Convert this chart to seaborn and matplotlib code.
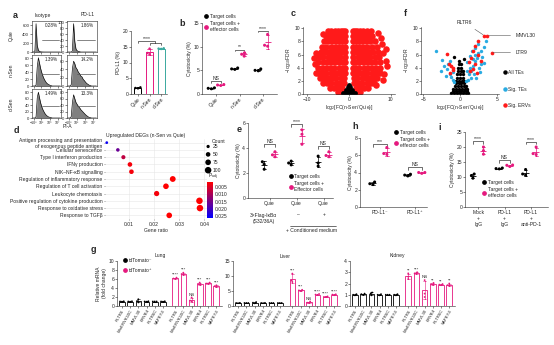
import matplotlib
matplotlib.use("Agg")
import matplotlib.pyplot as plt
import seaborn as sns
import numpy as np
import pandas as pd
from matplotlib.lines import Line2D
from matplotlib.colors import LinearSegmentedColormap, Normalize
from matplotlib.cm import ScalarMappable
import warnings
warnings.filterwarnings("ignore")

# ---------------- DATA ----------------
# a: flow histograms (bin heights at bin centres over a 0-10 display scale)
hist_x = [0.2, 0.6, 1.0, 1.4, 1.8, 2.2, 2.6, 3.0, 3.4, 3.8, 4.2, 4.6, 5.0, 5.4, 5.8, 6.2,
          6.6, 7.0, 7.4, 7.8, 8.2, 8.6, 9.0, 9.4, 9.8]
hist_quie_iso = [0, 0, 30, 640, 150, 40, 12, 5, 2, 1, 0, 0, 0, 0, 0, 0, 0, 0, 0, 0, 0, 0, 0, 0, 0]
hist_quie_pdl1 = [0, 0, 0, 0, 3, 96, 35, 10, 4, 2, 1, 0, 0, 0, 0, 0, 0, 0, 0, 0, 0, 0, 0, 0, 0]
hist_nsen_iso = [0, 0, 0, 3, 55, 82, 66, 50, 38, 28, 20, 14, 9, 6, 4, 2, 1, 0, 0, 0, 0, 0, 0, 0, 0]
hist_nsen_pdl1 = [0, 0, 0, 3, 42, 60, 54, 44, 40, 33, 30, 24, 22, 16, 13, 9, 6, 4, 2, 1, 0, 0, 0, 0, 0]
hist_dsen_iso = [0, 0, 0, 4, 62, 80, 62, 46, 34, 25, 18, 12, 8, 5, 3, 2, 1, 0, 0, 0, 0, 0, 0, 0, 0]
hist_dsen_pdl1 = [0, 0, 0, 4, 48, 72, 60, 48, 42, 36, 32, 26, 22, 18, 14, 10, 7, 4, 2, 1, 0, 0, 0, 0, 0]
hist_pct = ['0.28%', '1.86%', '1.39%', '14.2%', '1.49%', '13.3%']
hist_xtick_labels = ['−10³', '10³', '10⁵', '10⁷']

# a: PD-L1 bar chart
a_groups = ['Quie', 'n-Sen', 'd-Sen']
a_values = [[2.1, 1.8, 1.9], [14.4, 13.0, 12.6], [14.5, 14.3, 14.4]]

# b: cytotoxicity
b_groups = ['Quie', 'n-Sen', 'd-Sen']
b_target = [[1.1, 1.3, 1.2], [5.2, 5.5, 5.3], [5.0, 5.3, 4.9]]
b_effector = [[1.8, 2.0, 1.9], [8.0, 8.7, 8.4], [12.6, 10.3, 10.1]]
b_sig = ['NS', '**', '****']

# c: volcano (all genes), red = significant, rows of y with x positions
c_red_y = [0.3, 0.9, 1.6, 2.4, 3.2, 4.0, 4.8, 5.6, 6.4, 7.2, 8.0, 8.8, 9.6]
c_red_x = [
    [-2.6, -1.7, 1.7, 2.6],
    [-4.6, -3.6, -2.6, -1.7, 1.7, 2.6, 3.6, 4.5],
    [-6.2, -5.2, -4.2, -3.2, -2.2, -1.3, 1.3, 2.2, 3.2, 4.2, 5.2, 6.0],
    [-7.0, -6.0, -5.0, -4.0, -3.0, -2.0, -1.1, 1.1, 2.0, 3.0, 4.0, 5.0, 5.9, 6.8],
    [-7.4, -6.4, -5.4, -4.4, -3.4, -2.4, -1.5, -1.0, 1.0, 1.5, 2.4, 3.4, 4.4, 5.4, 6.4, 7.3],
    [-7.5, -6.5, -5.5, -4.5, -3.5, -2.5, -1.6, -1.0, 1.0, 1.6, 2.5, 3.5, 4.5, 5.5, 6.5, 7.5],
    [-7.3, -6.3, -5.3, -4.3, -3.3, -2.3, -1.5, -1.0, 1.0, 1.5, 2.3, 3.3, 4.3, 5.3, 6.3, 7.4],
    [-7.1, -6.1, -5.1, -4.1, -3.1, -2.1, -1.0, 1.0, 2.1, 3.1, 4.1, 5.1, 6.1, 7.2],
    [-6.8, -5.8, -4.8, -3.8, -2.8, -1.9, -1.0, 1.0, 1.9, 2.8, 3.8, 4.8, 5.8, 7.0],
    [-6.4, -5.4, -4.4, -3.4, -2.5, -1.7, -1.0, 1.0, 1.7, 2.5, 3.4, 4.4, 5.4, 6.6],
    [-6.0, -5.0, -4.0, -3.1, -2.3, -1.6, -1.0, 1.0, 1.6, 2.3, 3.1, 4.0, 5.0, 6.2],
    [-5.5, -4.6, -3.7, -2.9, -2.1, -1.5, -1.0, 1.0, 1.5, 2.1, 2.9, 3.7, 4.6, 5.6],
    [-5.0, -4.2, -3.4, -2.6, -1.9, -1.4, -1.0, 1.0, 1.4, 1.9, 2.6, 3.4, 4.2, 5.2],
]
c_red_out_x = [8.2, 8.8, 7.9, 9.0, -8.2, -7.8, 8.4, 7.6, -8.0, 8.9, -6.3, 6.9, -8.4, 8.1, 6.4]
c_red_out_y = [6.2, 5.0, 7.6, 4.2, 4.5, 6.3, 3.0, 8.6, 3.2, 6.8, 9.2, 9.3, 5.5, 2.1, 1.3]
c_black_x = [0.0, -0.5, 0.5, -1.0, 1.0, -0.3, 0.3, 0.0, -0.2, 0.2, 0.0, -1.4, 1.4, -0.7, 0.7]
c_black_y = [0.1, 0.2, 0.2, 0.15, 0.15, 0.5, 0.5, 0.8, 1.1, 1.1, 1.4, 0.1, 0.1, 0.6, 0.6]

# f: volcano (TEs)
f_black_y = [0.1, 0.4, 0.8, 1.2, 1.6, 2.0, 2.5, 3.0, 3.5, 4.0, 4.5, 5.0]
f_black_x = [
    [-1.2, -0.8, -0.4, 0.0, 0.4, 0.8, 1.1],
    [-1.0, -0.6, -0.2, 0.2, 0.6, 1.0],
    [-0.9, -0.5, -0.1, 0.3, 0.7, 1.0],
    [-0.7, -0.3, 0.1, 0.5, 0.8],
    [-0.6, -0.2, 0.2, 0.6],
    [-0.5, -0.1, 0.3, 0.6],
    [-0.4, 0.0, 0.4],
    [-0.35, 0.05, 0.4],
    [-0.3, 0.1, 0.35],
    [-0.25, 0.15],
    [-0.2, 0.1],
    [-0.1],
]
f_black_extra_x = [-0.8, 0.6]
f_black_extra_y = [5.7, 5.3]
f_blue_x = [-3.2, -2.5, -2.2, -1.8, -1.4, -1.2, -1.6, -1.0, -0.9, -2.6, -1.9, -1.3, -0.8,
            1.2, 1.5, 1.8, 2.0, 2.3, 2.5, 2.0, 1.6, 1.3, 1.0, 2.8, 3.0, 2.6, 1.9, 2.2, 1.1,
            3.2, 2.5, 2.7, 1.4, 0.9, 1.7, 2.9, 3.3, 2.1, 1.5, 0.8, 3.5]
f_blue_y = [6.6, 5.2, 4.3, 3.8, 3.1, 2.6, 4.5, 2.2, 3.3, 3.5, 2.8, 5.0, 1.8,
            3.0, 3.5, 4.2, 5.0, 5.5, 6.2, 7.0, 6.5, 5.8, 4.8, 4.5, 5.6, 4.0, 3.0, 2.5, 2.2,
            7.1, 7.6, 3.4, 4.0, 3.5, 5.3, 6.6, 4.7, 6.0, 2.5, 2.0, 8.0]
f_red_x = [3.3, 3.7, 4.3, 1.8, 2.5, 1.5, 1.2, 2.0, 1.8, 2.3, 2.8, 1.4, 2.5, 2.1,
           -1.5, -1.2, -1.0, -1.7, -0.9, -1.3]
f_red_y = [8.9, 8.9, 6.3, 6.6, 6.0, 5.5, 4.8, 4.6, 3.8, 3.2, 5.1, 3.5, 8.0, 7.3,
           4.6, 4.3, 4.0, 6.1, 3.6, 3.2]

# d: GO enrichment
d_terms = ['Antigen processing and presentation\nof exogenous peptide antigen',
           'Cellular senescence', 'Type I interferon production', 'IFNγ production',
           'NIK–NF-κB signalling', 'Regulation of inflammatory response',
           'Regulation of T cell activation', 'Leukocyte chemotaxis',
           'Positive regulation of cytokine production', 'Response to oxidative stress',
           'Response to TGFβ']
d_ratio = [0.0012, 0.0056, 0.0078, 0.0104, 0.0110, 0.0274, 0.0247, 0.0210, 0.0380, 0.0382, 0.0260]
d_count = [18, 30, 40, 50, 50, 80, 75, 65, 100, 100, 75]
d_padj = [0.025, 0.016, 0.008, 0.003, 0.003, 0.002, 0.002, 0.003, 0.001, 0.001, 0.002]
d_count_legend = [25, 50, 75, 100]
d_padj_ticks = [0.005, 0.010, 0.015, 0.020, 0.025]

# e
e_target = [[2.9, 2.7, 2.3], [2.95, 2.8, 2.65], [3.35, 2.8, 2.55]]
e_effector = [[3.7, 3.45, 3.3], [5.45, 5.1, 4.3], [3.7, 3.4, 3.3]]
e_sig = ['NS', '****', 'NS']

# h
h_groups = ['PD-L1⁻', 'PD-L1⁺']
h_target = [[2.9, 2.7, 2.6], [3.8, 3.6, 3.7]]
h_effector = [[6.9, 6.2, 6.1], [4.0, 3.9, 4.0]]
h_sig = ['***', 'NS']

# i
i_groups = ['Mock\n+\nIgG', 'PD-L1\n+\nIgG', 'PD-L1\n+\nanti-PD-1']
i_target = [[11.0, 10.5, 9.6], [12.7, 12.8, 13.0], [12.5, 11.0, 10.6]]
i_effector = [[20.0, 18.8, 17.6], [13.5, 14.0, 13.9], [20.0, 17.5, 17.8]]
i_sig = ['****', 'NS', '****']

# g
g_genes = ['RLTR6', 'MmERVK10C', 'MMVL30', 'ERVB4', 'RLTR6C', 'SAPEY4']
lung_neg = [[1.0, 1.05, 0.95], [1.0, 0.95, 1.05], [1.5, 0.8, 1.1], [1.0, 1.05, 0.95], [1.0, 1.0, 1.0], [1.0, 0.95, 1.05]]
lung_pos = [[6.3, 6.0, 6.1], [7.4, 7.0, 7.1], [1.9, 1.0, 1.2], [5.2, 4.9, 4.8], [5.2, 5.0, 5.0], [4.6, 4.4, 4.2]]
liver_neg = [[1.0, 1.05, 0.95], [1.0, 1.0, 1.0], [1.3, 0.9, 1.1], [1.0, 0.95, 1.05], [1.0, 1.0, 1.0], [1.0, 1.0, 1.0]]
liver_pos = [[10.8, 8.5, 8.0], [5.4, 5.2, 5.0], [1.5, 1.0, 1.1], [4.0, 3.8, 3.7], [3.2, 3.0, 3.0], [3.9, 3.8, 3.6]]
kidney_neg = [[1.0, 1.05, 0.95], [1.1, 1.0, 1.05], [1.2, 0.95, 1.1], [1.0, 1.05, 0.95], [1.0, 1.0, 1.0], [1.0, 1.05, 0.95]]
kidney_pos = [[2.9, 2.6, 2.4], [3.0, 2.9, 2.85], [2.3, 1.1, 0.8], [2.05, 1.95, 1.9], [1.95, 1.9, 1.85], [2.0, 1.85, 1.8]]
lung_sig = ['****', '***', 'NS', '***', '***', '***']
liver_sig = ['***', '***', 'NS', '****', '****', '****']
kidney_sig = ['**', '***', 'NS', '**', '**', '**']

# ---------------- STYLE ----------------
sns.set_theme(style="ticks")
plt.rcParams['font.family'] = ['Liberation Sans', 'DejaVu Sans']
FS = 3.6
plt.rcParams.update({
    'font.size': FS, 'axes.linewidth': 0.4,
    'xtick.major.width': 0.4, 'ytick.major.width': 0.4,
    'xtick.major.size': 1.2, 'ytick.major.size': 1.2,
    'xtick.labelsize': FS, 'ytick.labelsize': FS, 'axes.labelsize': FS,
    'xtick.major.pad': 0.8, 'ytick.major.pad': 0.8, 'axes.labelpad': 1.0,
    'legend.fontsize': FS, 'mathtext.default': 'regular',
})
PINK = '#e5197e'
TEAL = '#3aa99f'
RED = '#ff1a1a'
BLUE = '#29abe2'
GREY = '#7f7f7f'

W, H = 554, 345
fig = plt.figure(figsize=(W / 100, H / 100), dpi=100)


def add_ax(x0, y0, x1, y1):
    return fig.add_axes([x0 / W, 1 - y1 / H, (x1 - x0) / W, (y1 - y0) / H])


def ftext(x, y, s, **kw):
    kw.setdefault('ha', 'center')
    kw.setdefault('va', 'center')
    kw.setdefault('fontsize', FS)
    fig.text(x / W, 1 - y / H, s, **kw)


def letter(x, y, s):
    ftext(x, y, s, fontsize=6.5, weight='bold')


def px_legend(ax, x, y, entries, ms=2.4, spacing=0.5):
    handles = [Line2D([], [], marker='o', ls='', color=c, markersize=ms, label=l) for l, c in entries]
    ax.legend(handles=handles, loc='upper left', bbox_to_anchor=(x / W, 1 - y / H),
              bbox_transform=fig.transFigure, frameon=False, handlelength=0.6,
              handletextpad=0.5, borderpad=0, borderaxespad=0, labelspacing=spacing, fontsize=FS)


def bracket(ax, x0, x1, y, h, text, off=0.0):
    ax.plot([x0, x0, x1, x1], [y - h, y, y, y - h], color='black', lw=0.4, clip_on=False)
    ax.text((x0 + x1) / 2, y + off, text, ha='center', va='bottom', fontsize=FS, clip_on=False)


def cyto_df(groups, target, effector):
    rows = []
    for g, reps in zip(groups, target):
        for v in reps:
            rows.append((g, 'Target cells', v))
    for g, reps in zip(groups, effector):
        for v in reps:
            rows.append((g, 'Effector', v))
    return pd.DataFrame(rows, columns=['group', 'cond', 'val'])


CYTO_PAL = {'Target cells': 'black', 'Effector': PINK}


def cyto_plot(ax, groups, target, effector, dotsize=2.2):
    df = cyto_df(groups, target, effector)
    sns.swarmplot(data=df, x='group', y='val', hue='cond', order=groups,
                  hue_order=['Target cells', 'Effector'], palette=CYTO_PAL, dodge=True,
                  size=dotsize, linewidth=0, legend=False, ax=ax)
    sns.pointplot(data=df, x='group', y='val', hue='cond', order=groups,
                  hue_order=['Target cells', 'Effector'], palette=CYTO_PAL, dodge=0.4,
                  errorbar='sd', markers='_', linestyles='none', capsize=0.12,
                  err_kws={'linewidth': 0.5}, markersize=5, markeredgewidth=0.6,
                  legend=False, ax=ax)
    sns.despine(ax=ax)
    ax.set_xlabel('')
    ax.set_ylabel('Cytotoxicity (%)')


# ---------------- PANEL a ----------------
letter(15, 15, 'a')
ftext(43, 15, 'Isotype')
ftext(88, 15, 'PD-L1')
hist_sets = [hist_quie_iso, hist_quie_pdl1, hist_nsen_iso, hist_nsen_pdl1, hist_dsen_iso, hist_dsen_pdl1]
hist_ylims = [700, 105, 90, 75, 90, 90]
hist_ticks = [[0, 200, 400, 600], [0, 20, 40, 60, 80, 100], [0, 20, 40, 60, 80],
              [0, 20, 40, 60], [0, 20, 40, 60, 80], [0, 20, 40, 60, 80]]
row_y = [(21, 52), (55, 86), (89, 118)]
col_x = [(32, 61), (67, 97)]
for r in range(3):
    for cidx in range(2):
        k = r * 2 + cidx
        ax = add_ax(col_x[cidx][0], row_y[r][0], col_x[cidx][1], row_y[r][1])
        ax.fill_between(hist_x, hist_sets[k], 0, color=GREY, lw=0)
        sns.lineplot(x=hist_x, y=hist_sets[k], color='black', lw=0.45, ax=ax)
        ax.set_xlim(0, 10)
        ax.set_ylim(0, hist_ylims[k])
        ax.set_yticks(hist_ticks[k])
        ax.tick_params(axis='y', labelsize=3.1)
        ax.set_ylabel('')
        ax.set_xticks([0.6, 3.2, 6.1, 8.8])
        if r == 2:
            ax.set_xticklabels(hist_xtick_labels, fontsize=2.6)
        else:
            ax.set_xticklabels([])
        ax.axhline(hist_ylims[k] * 0.4, xmin=0.33, xmax=0.93, color='#555555', lw=0.5)
        ax.text(0.9, 0.85, hist_pct[k], transform=ax.transAxes, ha='right', va='center', fontsize=3.3)
for lab, yc in zip(['Quie', 'n-Sen', 'd-Sen'], [36, 70, 104]):
    ftext(11, yc, lab, rotation=90)
ftext(67, 126, 'PI-A')

ax = add_ax(131, 31, 167, 94)
a_rows = [(g, v) for g, reps in zip(a_groups, a_values) for v in reps]
a_df = pd.DataFrame(a_rows, columns=['group', 'val'])
a_pal = {'Quie': 'black', 'n-Sen': PINK, 'd-Sen': TEAL}
sns.barplot(data=a_df, x='group', y='val', hue='group', palette=a_pal, fill=False,
            errorbar='sd', capsize=0.4, width=0.6, linewidth=0.7, err_kws={'linewidth': 0.5},
            legend=False, ax=ax)
sns.swarmplot(data=a_df, x='group', y='val', hue='group', palette=a_pal, size=1.8,
              linewidth=0, legend=False, ax=ax)
ax.set_ylim(0, 20)
ax.set_yticks([0, 5, 10, 15, 20])
ax.set_xlim(-0.6, 2.5)
ax.set_ylabel('PD-L1 (%)')
ax.set_xlabel('')
ax.set_xticks(range(3))
ax.set_xticklabels(a_groups, rotation=45, ha='right', rotation_mode='anchor')
sns.despine(ax=ax)
ax.plot([0, 0, 1.5, 1.5], [16.2, 16.8, 16.8, 16.2], color='black', lw=0.4)
ax.plot([1, 1, 2, 2], [15.6, 16.1, 16.1, 15.6], color='black', lw=0.4)
ax.text(0.75, 16.9, '****', ha='center', va='bottom', fontsize=FS)

# ---------------- PANEL b ----------------
letter(182, 23, 'b')
ax = add_ax(202, 23, 277, 94)
cyto_plot(ax, b_groups, b_target, b_effector)
ax.set_ylim(0, 15)
ax.set_yticks([0, 5, 10, 15])
ax.set_xlim(-0.6, 2.6)
ax.set_xticks(range(3))
ax.set_xticklabels(b_groups, rotation=45, ha='right', rotation_mode='anchor')
for gi, (s, yb) in enumerate(zip(b_sig, [2.7, 9.4, 13.4])):
    bracket(ax, gi - 0.2, gi + 0.2, yb, 0.4, s)
px_legend(ax, 204, 14, [('Target cells', 'black'), ('Target cells +\neffector cells', PINK)], spacing=0.4)

# ---------------- PANEL c ----------------
letter(293, 14, 'c')
ax = add_ax(303, 27, 395, 94)
cxr = [x for row in c_red_x for x in row] + c_red_out_x
cyr = [y for y, row in zip(c_red_y, c_red_x) for _ in row] + c_red_out_y
sns.scatterplot(x=cxr, y=cyr, color=RED, s=22, linewidth=0, ax=ax)
sns.scatterplot(x=c_black_x, y=c_black_y, color='black', s=12, linewidth=0, ax=ax)
ax.set_xlim(-11, 11)
ax.set_ylim(0, 10.2)
ax.set_xticks([-10, 0, 10])
ax.set_yticks([0, 2, 4, 6, 8, 10])
ax.set_xlabel('log$_2$[FC(n-Sen/Quie)]')
ax.set_ylabel('−log$_{10}$FDR')
sns.despine(ax=ax)

# ---------------- PANEL f ----------------
letter(405, 14, 'f')
ax = add_ax(421, 27, 499, 94)
fbx = [x for row in f_black_x for x in row] + f_black_extra_x
fby = [y for y, row in zip(f_black_y, f_black_x) for _ in row] + f_black_extra_y
sns.scatterplot(x=fbx, y=fby, color='black', s=6, linewidth=0, ax=ax)
sns.scatterplot(x=f_blue_x, y=f_blue_y, color=BLUE, s=6, linewidth=0, ax=ax)
sns.scatterplot(x=f_red_x, y=f_red_y, color=RED, s=7, linewidth=0, ax=ax)
ax.set_xlim(-5.3, 5.3)
ax.set_ylim(0, 10.2)
ax.set_xticks([-5, 0, 5])
ax.set_yticks([0, 2, 4, 6, 8, 10])
ax.set_xlabel('log$_2$[FC(n-Sen/Quie)]')
ax.set_ylabel('−log$_{10}$FDR')
sns.despine(ax=ax)
ax.annotate('RLTR6', xy=(3.3, 8.9), xytext=(0.6, 10.9), fontsize=FS, ha='center', va='center',
            arrowprops=dict(arrowstyle='-', lw=0.4, color='#555555', shrinkA=1.5, shrinkB=1), annotation_clip=False)
ax.annotate('MMVL30', xy=(3.7, 8.9), xytext=(7.5, 8.9), fontsize=FS, ha='left', va='center',
            arrowprops=dict(arrowstyle='-', lw=0.4, color='#555555', shrinkA=1, shrinkB=1), annotation_clip=False)
ax.annotate('LTR9', xy=(4.3, 6.3), xytext=(7.5, 6.3), fontsize=FS, ha='left', va='center',
            arrowprops=dict(arrowstyle='-', lw=0.4, color='#555555', shrinkA=1, shrinkB=1), annotation_clip=False)
px_legend(ax, 503, 70, [('All TEs', 'black'), ('Sig. TEs', BLUE), ('Sig. ERVs', RED)], ms=2.2, spacing=2.3)

# ---------------- PANEL d ----------------
letter(16, 131, 'd')
ftext(146, 135, 'Upregulated DEGs (n-Sen vs Quie)')
ax = add_ax(105, 139, 207, 219)
cmap = LinearSegmentedColormap.from_list('rb', ['#ff0000', '#0000ff'])
pnorm = Normalize(0.002, 0.026)
d_df = pd.DataFrame({'term': d_terms, 'ratio': d_ratio, 'count': d_count, 'padj': d_padj})
ax.grid(True, color='#e6e6e6', lw=0.4)
ax.set_axisbelow(True)
sns.scatterplot(data=d_df, x='ratio', y='term', hue='padj', size='count', palette=cmap,
                hue_norm=pnorm, size_norm=(0, 100), sizes=(0, 22), linewidth=0, legend=False, ax=ax)
ax.set_ylim(len(d_terms) - 0.5, -0.5)
ax.set_xlim(0.0005, 0.041)
ax.set_xticks([0.01, 0.02, 0.03, 0.04])
ax.set_xticklabels(['0.01', '0.02', '0.03', '0.04'])
ax.set_xlabel('Gene ratio')
ax.set_ylabel('')
for sp in ax.spines.values():
    sp.set_visible(False)
ax.tick_params(length=1.0, color='#555555')
# count legend
axl = add_ax(203, 143, 230, 174)
sns.scatterplot(x=[0] * 4, y=d_count_legend, size=d_count_legend, size_norm=(0, 100), sizes=(0, 22),
                color='black', linewidth=0, legend=False, ax=axl)
for v in d_count_legend:
    axl.text(0.6, v, str(v), va='center', ha='left', fontsize=FS)
axl.set_xlim(-0.7, 3)
axl.set_ylim(112, 14)
axl.axis('off')
ftext(212, 142, 'Count', ha='left')
ftext(208, 177, '$P_{adj}$', ha='left')
cax = add_ax(207, 182, 213, 218)
cb = fig.colorbar(ScalarMappable(norm=pnorm, cmap=cmap), cax=cax, ticks=d_padj_ticks)
cb.outline.set_visible(False)
cax.invert_yaxis()
cax.tick_params(labelsize=FS, length=0, pad=1)
cax.set_yticklabels(['0.005', '0.010', '0.015', '0.020', '0.025'])

# ---------------- PANEL e ----------------
letter(239, 129, 'e')
ax = add_ax(248, 123, 333, 198)
e_groups = ['q1', 'q2', 'q3']
cyto_plot(ax, e_groups, e_target, e_effector)
ax.set_ylim(0, 6)
ax.set_yticks([0, 2, 4, 6])
ax.set_xlim(-0.8, 2.35)
ax.set_xticks(range(3))
ax.set_xticklabels(['Quie'] * 3)
for gi, (s, yb) in enumerate(zip(e_sig, [4.35, 5.9, 4.2])):
    bracket(ax, gi - 0.2, gi + 0.2, yb, 0.25, s)
ftext(263, 215, '3×Flag-IκBα')
ftext(264, 221, '(S32/36A)')
ftext(298, 215, '–')
ftext(324, 215, '+')
fig.add_artist(Line2D([290 / W, 336 / W], [1 - 226 / H, 1 - 226 / H], color='black', lw=0.4))
ftext(312, 231, '+ Conditioned medium')
px_legend(ax, 289, 174, [('Target cells', 'black'), ('Target cells +\nEffector cells', PINK)], spacing=0.4)

# ---------------- PANEL h ----------------
letter(355, 127, 'h')
ax = add_ax(360, 138, 427, 207)
cyto_plot(ax, h_groups, h_target, h_effector)
ax.set_ylim(0, 8)
ax.set_yticks([0, 2, 4, 6, 8])
ax.set_xlim(-0.57, 1.35)
ax.set_xticks([0, 1])
ax.set_xticklabels(h_groups)
for gi, (s, yb) in enumerate(zip(h_sig, [7.3, 4.6])):
    bracket(ax, gi - 0.2, gi + 0.2, yb, 0.3, s)
px_legend(ax, 394, 130, [('Target cells', 'black'), ('Target cells +\neffector cells', PINK)], spacing=0.4)

# ---------------- PANEL i ----------------
letter(440, 128, 'i')
ax = add_ax(465, 132, 548, 207)
i_keys = ['m', 'p1', 'p2']
cyto_plot(ax, i_keys, i_target, i_effector)
ax.set_ylim(0, 25)
ax.set_yticks([0, 5, 10, 15, 20, 25])
ax.set_xlim(-0.5, 2.65)
ax.set_xticks(range(3))
ax.set_xticklabels(i_groups, linespacing=1.3)
for gi, (s, yb) in enumerate(zip(i_sig, [22.0, 15.6, 21.8])):
    bracket(ax, gi - 0.2, gi + 0.2, yb, 0.9, s)
px_legend(ax, 482, 180, [('Target cells', 'black'), ('Target cells +\neffector cells', PINK)], spacing=0.4)

# ---------------- PANEL g ----------------
letter(93, 249, 'g')
G_PAL = {'tdTomato⁻': 'black', 'tdTomato⁺': PINK}
g_xpos_neg = [0, 1, 2, 3, 4, 5]
g_xpos_pos = [6.5, 7.5, 8.5, 9.5, 10.5, 11.5]


def g_panel(ax, neg, pos, sig, ymax, yticks, title, title_x):
    rows = []
    for xp, reps in zip(g_xpos_neg, neg):
        for v in reps:
            rows.append((xp, 'tdTomato⁻', v))
    for xp, reps in zip(g_xpos_pos, pos):
        for v in reps:
            rows.append((xp, 'tdTomato⁺', v))
    df = pd.DataFrame(rows, columns=['pos', 'cond', 'val'])
    sns.barplot(data=df, x='pos', y='val', hue='cond', native_scale=True, dodge=False, fill=False,
                palette=G_PAL, width=0.68, errorbar='sd', capsize=0.4, linewidth=0.6,
                err_kws={'linewidth': 0.4}, legend=False, ax=ax)
    sns.swarmplot(data=df, x='pos', y='val', hue='cond', native_scale=True, dodge=False,
                  palette=G_PAL, size=1.3, linewidth=0, legend=False, ax=ax)
    ax.set_xlim(-0.6, 12.2)
    ax.set_ylim(0, ymax)
    ax.set_yticks(yticks)
    ax.set_xticks(g_xpos_neg + g_xpos_pos)
    ax.set_xticklabels(g_genes + g_genes, rotation=60, ha='right', rotation_mode='anchor', fontsize=3.1)
    ax.set_xlabel('')
    ax.set_ylabel('')
    sns.despine(ax=ax)
    for xp, reps, s in zip(g_xpos_pos, pos, sig):
        m = np.mean(reps)
        top = max(max(reps), m + np.std(reps, ddof=1))
        ax.text(xp, top + ymax * 0.015, s, ha='center', va='bottom', fontsize=3.2, clip_on=False)
    ftext(title_x, 256, title)


ax = add_ax(117, 261, 222, 306)
g_panel(ax, lung_neg, lung_pos, lung_sig, 10, [0, 2, 4, 6, 8, 10], 'Lung', 160)
ax.set_ylabel('Relative mRNA\n(fold change)')
px_legend(ax, 123, 258, [('tdTomato⁻', 'black'), ('tdTomato⁺', PINK)], spacing=0.9)
ax = add_ax(233, 261, 340, 306)
g_panel(ax, liver_neg, liver_pos, liver_sig, 15, [0, 5, 10, 15], 'Liver', 285)
ax = add_ax(350, 261, 455, 306)
g_panel(ax, kidney_neg, kidney_pos, kidney_sig, 4, [0, 1, 2, 3, 4], 'Kidney', 397)

fig.savefig('out.png', dpi=100)
